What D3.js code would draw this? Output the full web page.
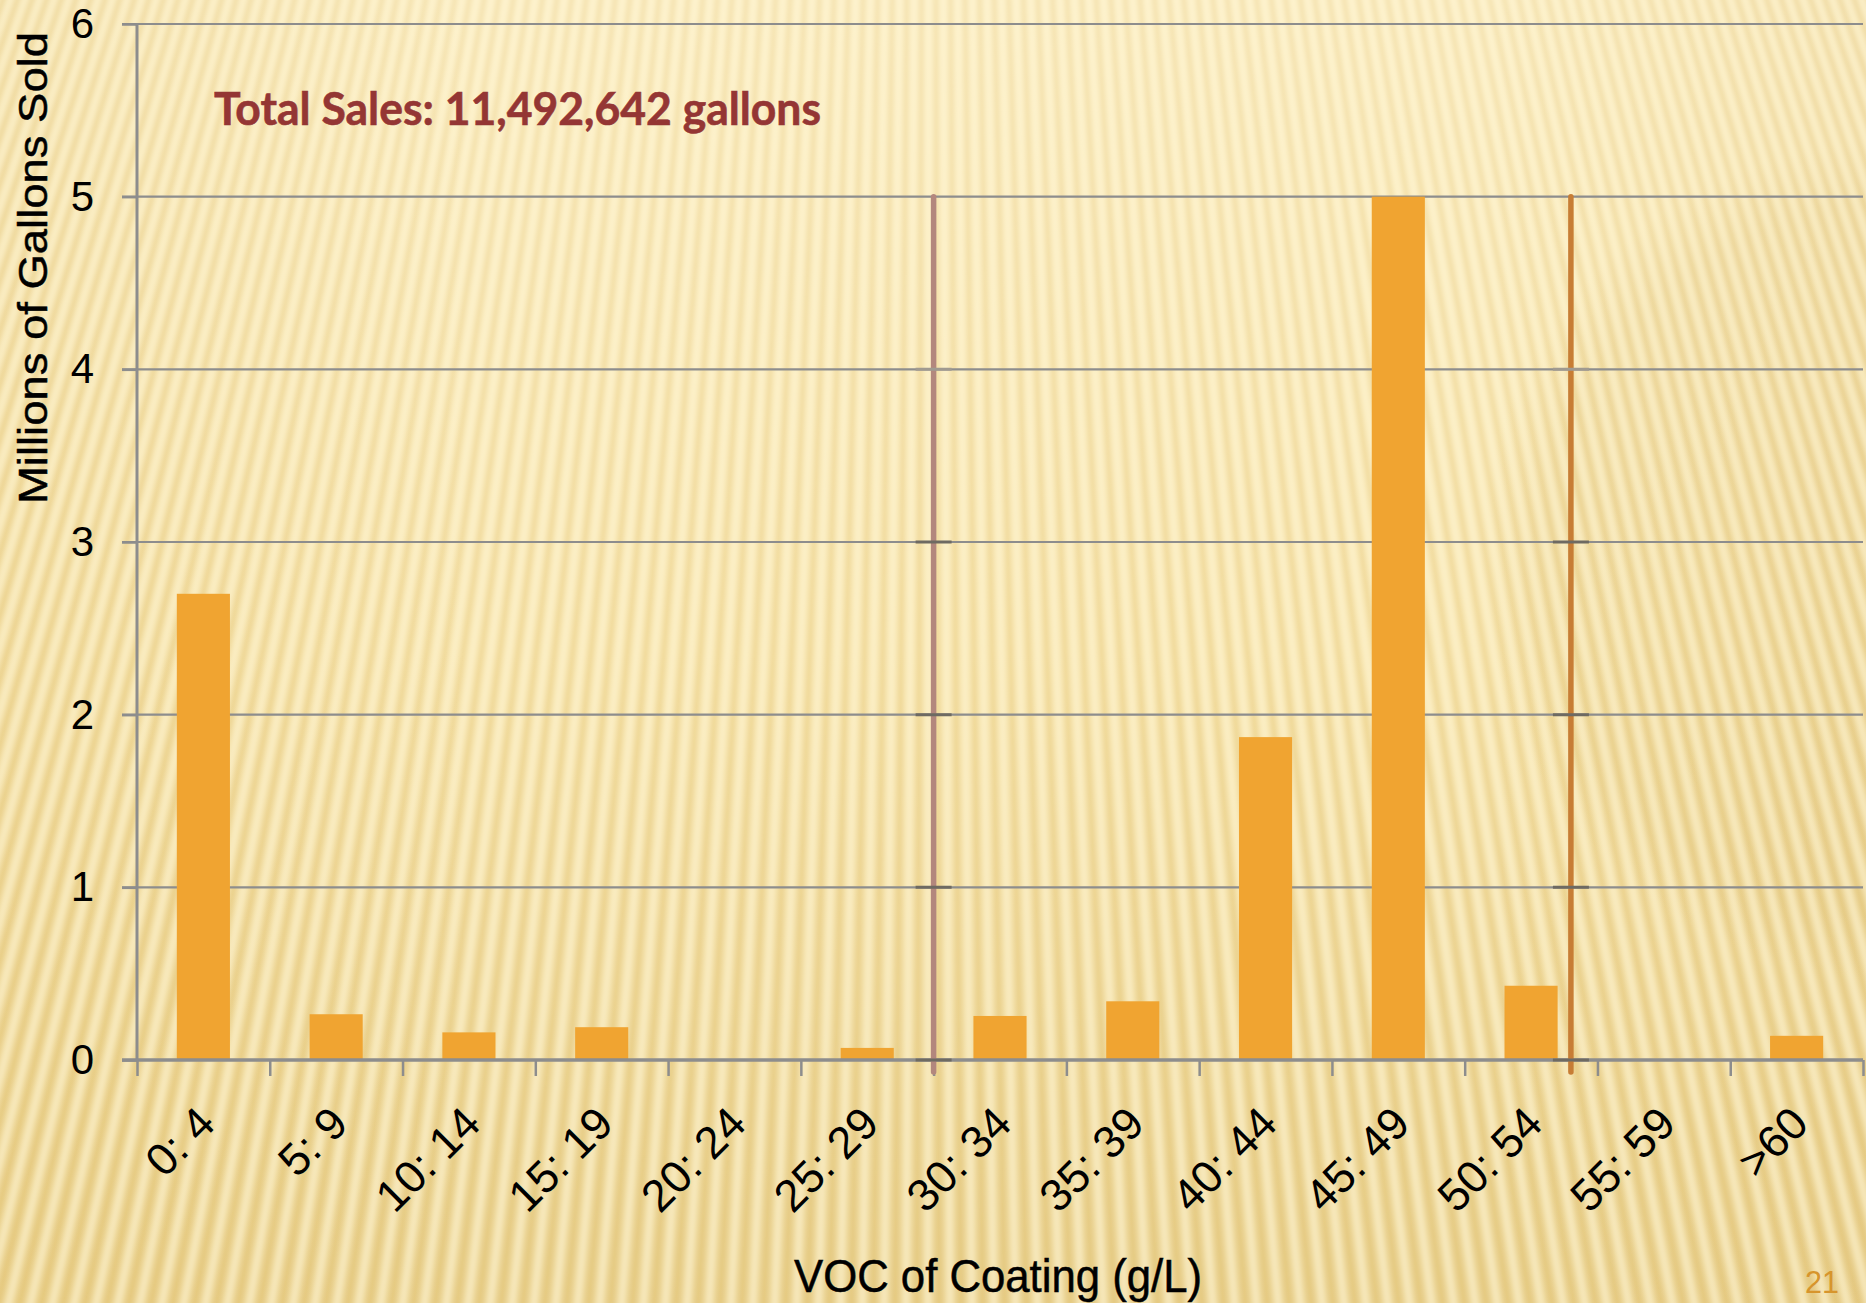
<!DOCTYPE html>
<html><head><meta charset="utf-8">
<script src="https://cdn.jsdelivr.net/npm/d3@7"></script>
<style>body{margin:0;background:#f5e3a8} svg{display:block}</style>
</head><body>
<svg id="c" width="1866" height="1303"></svg>
<script>
// ---- data ----
const categories = ["0: 4","5: 9","10: 14","15: 19","20: 24","25: 29","30: 34","35: 39","40: 44","45: 49","50: 54","55: 59",">60"];
const sales = [2.70, 0.265, 0.16, 0.19, 0, 0.07, 0.255, 0.34, 1.87, 5.0, 0.43, 0, 0.14];
const yTicks = [0, 1, 2, 3, 4, 5, 6];
const vocBounds = [0, 5, 10, 15, 20, 25, 30, 35, 40, 45, 50, 55, 60, 65];
const limitVoc = [30, 54];
const limitTop = 5;
const limitColors = ["#b3877d", "#c77d35"];
const titleText = "Total Sales: 11,492,642 gallons";
const xTitle = "VOC of Coating (g/L)";
const yTitle = "Millions of Gallons Sold";
const pageNum = "21";

const W = 1866, H = 1303;
const L = 137, R = 1863, T = 24, B = 1060;
const svg = d3.select("#c");
const defs = svg.append("defs");

// ---- background ----
const bg = defs.append("linearGradient").attr("id","bg").attr("x1",0).attr("y1",0).attr("x2",0).attr("y2",1);
bg.append("stop").attr("offset","0").attr("stop-color","#fbecbc");
bg.append("stop").attr("offset","0.5").attr("stop-color","#f6e2a6");
bg.append("stop").attr("offset","1").attr("stop-color","#e8cf8a");
svg.append("rect").attr("width",W).attr("height",H).attr("fill","url(#bg)");
const side = defs.append("linearGradient").attr("id","side").attr("x1",0).attr("y1",0).attr("x2",1).attr("y2",0);
side.append("stop").attr("offset","0").attr("stop-color","#e8cc80").attr("stop-opacity",0.4);
side.append("stop").attr("offset","0.25").attr("stop-color","#e8cc80").attr("stop-opacity",0);
side.append("stop").attr("offset","0.8").attr("stop-color","#e8cc80").attr("stop-opacity",0);
side.append("stop").attr("offset","1").attr("stop-color","#e3c67e").attr("stop-opacity",0.3);
svg.append("rect").attr("width",W).attr("height",H).attr("fill","url(#side)");
const rg = defs.append("radialGradient").attr("id","disc");
rg.append("stop").attr("offset","0.85").attr("stop-color","#d9bb6c").attr("stop-opacity",0.2);
rg.append("stop").attr("offset","1").attr("stop-color","#d9bb6c").attr("stop-opacity",0);
svg.append("circle").attr("cx",1900).attr("cy",560).attr("r",420).attr("fill","url(#disc)");

const blur = defs.append("filter").attr("id","blur").attr("x","-10%").attr("y","-10%").attr("width","120%").attr("height","120%");
blur.append("feGaussianBlur").attr("stdDeviation",2.6);
const blur2 = defs.append("filter").attr("id","blur2").attr("x","-100%").attr("y","-10%").attr("width","300%").attr("height","120%");
blur2.append("feGaussianBlur").attr("stdDeviation",6);

const fx = 930, fy = -2600;
const stripes = svg.append("g").attr("filter","url(#blur)");
d3.range(-700, W + 700, 22).forEach((bx) => {
  stripes.append("line").attr("x1",fx).attr("y1",fy).attr("x2",bx).attr("y2",H+20)
    .attr("stroke","#fff7d8").attr("stroke-opacity",0.6).attr("stroke-width",9);
  stripes.append("line").attr("x1",fx).attr("y1",fy).attr("x2",bx+11).attr("y2",H+20)
    .attr("stroke","#d6b25c").attr("stroke-opacity",0.22).attr("stroke-width",5);
});

// ---- scales ----
const x = d3.scaleBand().domain(categories).range([L, R]).paddingInner(0.6).paddingOuter(0.3);
const voc = d3.scaleLinear().domain([0, 65]).range([L, R]);
const y = d3.scaleLinear().domain([0, 6]).range([B, T]);

// gridlines
svg.append("g").selectAll("line").data(yTicks.filter(d => d > 0)).join("line")
  .attr("x1", L - 15).attr("x2", R).attr("y1", d => y(d)).attr("y2", d => y(d))
  .attr("stroke", "#8d8d8d").attr("stroke-width", 2.2);

// bars
svg.append("g").selectAll("rect").data(categories).join("rect")
  .attr("x", d => x(d)).attr("width", x.bandwidth())
  .attr("y", (d, i) => y(sales[i])).attr("height", (d, i) => y(0) - y(sales[i]))
  .attr("fill", "#f0a431");

// y axis
const yAxis = svg.append("g").attr("transform", `translate(${L},0)`)
  .call(d3.axisLeft(y).tickValues(yTicks).tickSize(15).tickPadding(28).tickFormat(d3.format("d")));
yAxis.select(".domain").attr("stroke", "#8d8d8d").attr("stroke-width", 3).attr("d", `M0,${T}V${B}`);
yAxis.selectAll(".tick line").attr("stroke", "#8d8d8d").attr("stroke-width", 2.5);
yAxis.selectAll("text").attr("font-family", "Liberation Sans, Arial, sans-serif").attr("font-size", 42).attr("fill", "#000");

// x axis (boundary ticks)
const xAxis = svg.append("g").attr("transform", `translate(0,${B})`)
  .call(d3.axisBottom(voc).tickValues(vocBounds).tickSize(16).tickFormat(""));
xAxis.select(".domain").attr("stroke", "#8d8d8d").attr("stroke-width", 3.5).attr("d", `M${L-15},0H${R}`);
xAxis.selectAll(".tick line").attr("stroke", "#8d8d8d").attr("stroke-width", 2.5);

// category labels
svg.append("g").selectAll("text").data(categories).join("text")
  .attr("transform", d => `translate(${x(d) + x.bandwidth()/2 + 14},${B + 66}) rotate(-45)`)
  .attr("text-anchor", "end")
  .attr("font-family", "Liberation Sans, Arial, sans-serif").attr("font-size", 45).attr("fill", "#000")
  .text(d => d);

// limit lines
const lim = svg.append("g");
limitVoc.forEach((v, i) => {
  const lx = voc(v);
  lim.append("line").attr("x1", lx).attr("x2", lx).attr("y1", y(limitTop)).attr("y2", B + 14)
    .attr("stroke", "#fffbe6").attr("stroke-opacity", 0.7).attr("stroke-width", 26).attr("filter", "url(#blur2)");
  lim.append("line").attr("x1", lx).attr("x2", lx).attr("y1", y(limitTop)).attr("y2", B + 12)
    .attr("stroke", limitColors[i]).attr("stroke-width", 5.5).attr("stroke-linecap", "round");
  lim.selectAll(null).data(yTicks.filter(d => d < limitTop)).join("line")
    .attr("x1", lx - 18).attr("x2", lx + 18).attr("y1", d => y(d)).attr("y2", d => y(d))
    .attr("stroke", d => d === 4 ? "#a09a90" : "#6e6a62").attr("stroke-width", 3);
});

// title
svg.append("text").attr("x", 214).attr("y", 125)
  .attr("font-family", "Lato, Open Sans, sans-serif").attr("font-weight", 700).attr("font-size", 45)
  .attr("fill", "#943634").attr("stroke", "#943634").attr("stroke-width", 0.6)
  .attr("textLength", 607).attr("lengthAdjust", "spacingAndGlyphs").text(titleText);

// y title
svg.append("text").attr("transform", `translate(47,${268}) rotate(-90)`).attr("text-anchor", "middle")
  .attr("font-family", "Liberation Sans, Arial, sans-serif").attr("font-size", 40).attr("fill", "#000")
  .attr("stroke", "#000").attr("stroke-width", 0.5)
  .attr("textLength", 472).attr("lengthAdjust", "spacingAndGlyphs").text(yTitle);

// x title
svg.append("text").attr("x", 998).attr("y", 1292).attr("text-anchor", "middle")
  .attr("font-family", "Liberation Sans Narrow, Liberation Sans, Arial, sans-serif").attr("font-size", 46).attr("fill", "#000")
  .attr("stroke", "#000").attr("stroke-width", 0.5)
  .attr("textLength", 408).attr("lengthAdjust", "spacingAndGlyphs").text(xTitle);

// page number
svg.append("text").attr("x", 1839).attr("y", 1293).attr("text-anchor", "end")
  .attr("font-family", "Liberation Sans Narrow, Liberation Sans, sans-serif").attr("font-size", 32).attr("fill", "#d7952c")
  .attr("textLength", 34).attr("lengthAdjust", "spacingAndGlyphs")
  .text(pageNum);
</script>
</body></html>
